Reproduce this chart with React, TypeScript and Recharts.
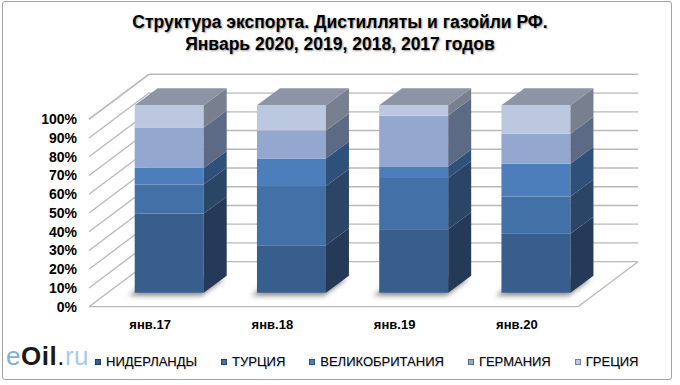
import { BarChart, Bar, XAxis, YAxis, CartesianGrid } from "recharts";

const categories = ["янв.17", "янв.18", "янв.19", "янв.20"];
const netherlands = [42.2, 25.3, 33.9, 31.4];
const turkey = [15.5, 31.6, 27.3, 19.9];
const britain = [8.9, 14.7, 6.2, 17.5];
const germany = [21.6, 15.0, 27.1, 16.0];
const greece = [11.8, 13.4, 5.5, 15.2];
const yTicks = [0, 10, 20, 30, 40, 50, 60, 70, 80, 90, 100];

const series = [
  { key: "nl", name: "НИДЕРЛАНДЫ", values: netherlands, front: "#375E8C", side: "#253A59" },
  { key: "tr", name: "ТУРЦИЯ", values: turkey, front: "#4171A7", side: "#2A4566" },
  { key: "uk", name: "ВЕЛИКОБРИТАНИЯ", values: britain, front: "#4C7EBB", side: "#2F5078" },
  { key: "de", name: "ГЕРМАНИЯ", values: germany, front: "#94A7CF", side: "#5D6A85" },
  { key: "gr", name: "ГРЕЦИЯ", values: greece, front: "#BCC7E0", side: "#78808F" },
];

const data = categories.map((c, i) => {
  const row: any = { name: c };
  series.forEach(s => { row[s.key] = s.values[i]; });
  return row;
});

// oblique projection: wall depth, bar placement and bar depth
const WALL_DX = 60, WALL_DY = -45;
const BAR_DX = 18.7, BAR_DY = -14;
const DEPTH_DX = 23, DEPTH_DY = -17;
const PLOT_BOTTOM = 306.7;
const FONT = "'Liberation Sans', Arial, sans-serif";

const gridLine = (p: any) => {
  const { x1, x2, y1 } = p;
  const bx = x1 + WALL_DX, by = y1 + WALL_DY;
  const isFloor = Math.abs(y1 - PLOT_BOTTOM) < 1;
  return (
    <g key={`grid-${y1}`} stroke="#b8b8b8" strokeWidth={1.3} fill="none">
      <line x1={x1} y1={y1} x2={bx} y2={by} />
      <line x1={bx} y1={by} x2={x2 + WALL_DX} y2={by} />
      {isFloor && <line x1={x1} y1={y1} x2={x2} y2={y1} />}
      {isFloor && <line x1={x2} y1={y1} x2={x2 + WALL_DX} y2={by} />}
    </g>
  );
};

const makeShape = (idx: number) => (props: any) => {
  const { x, y, width, height } = props;
  const s = series[idx];
  const fx = x + BAR_DX, fy = y + BAR_DY;
  const isTop = idx === series.length - 1;
  const isBase = idx === 0;
  const sidePts = [
    [fx + width, fy],
    [fx + width + DEPTH_DX, fy + DEPTH_DY],
    [fx + width + DEPTH_DX, fy + height + DEPTH_DY],
    [fx + width, fy + height],
  ].map(p => p.join(",")).join(" ");
  const topPts = [
    [fx, fy],
    [fx + width, fy],
    [fx + width + DEPTH_DX, fy + DEPTH_DY],
    [fx + DEPTH_DX, fy + DEPTH_DY],
  ].map(p => p.join(",")).join(" ");
  const by = fy + height;
  const shadowPts = [
    [fx - 6, by + 3],
    [fx + width - 2, by + 3],
    [fx + width + DEPTH_DX - 2, by + DEPTH_DY + 3],
    [fx + DEPTH_DX - 6, by + DEPTH_DY + 3],
  ].map(p => p.join(",")).join(" ");
  return (
    <g>
      {isBase && <polygon points={shadowPts} fill="rgba(0,0,0,0.45)" filter="url(#barShadow)" />}
      <rect x={fx} y={fy} width={width} height={height} fill={s.front} />
      <polygon points={sidePts} fill={s.side} />
      {isTop && <polygon points={topPts} fill="#8C94A5" />}
    </g>
  );
};

const YTick = (p: any) => (
  <text x={77} y={p.y} dy="0.35em" textAnchor="end" fontFamily={FONT} fontSize={14} fontWeight="bold" fill="#000">
    {p.payload.value}%
  </text>
);

const XTick = (p: any) => (
  <text x={p.x} y={329} textAnchor="middle" fontFamily={FONT} fontSize={13} fontWeight="bold" fill="#000">
    {p.payload.value}
  </text>
);

const App = () => (
  <div style={{ position: "absolute", left: 0, top: 0, width: 680, height: 385, background: "#fff", fontFamily: FONT }}>
    <div style={{ position: "absolute", left: 2, top: 1, width: 668, height: 377, border: "1.5px solid #a3a3a3", borderRadius: 3 }} />
    <div style={{ position: "absolute", left: 0, top: 11, width: 680, textAlign: "center", fontSize: 17.5, fontWeight: "bold", lineHeight: "22px", color: "#000", textShadow: "1px 1px 2px rgba(0,0,0,0.4)" }}>
      Структура экспорта. Дистилляты и газойли РФ.<br />Январь 2020, 2019, 2018, 2017 годов
    </div>
    <div style={{ position: "absolute", left: 0, top: 0 }}>
      <BarChart width={680} height={385} data={data} margin={{ top: 119.3, right: 102, bottom: 48.3, left: 29 }}>
        <defs>
          <filter id="barShadow" x="-30%" y="-100%" width="160%" height="300%">
            <feGaussianBlur stdDeviation="2.5" />
          </filter>
        </defs>
        <CartesianGrid vertical={false} horizontal={gridLine} />
        <XAxis dataKey="name" height={30} axisLine={false} tickLine={false} tick={XTick} />
        <YAxis width={60} domain={[0, 100]} ticks={yTicks} interval={0} axisLine={false} tickLine={false} tick={YTick} />
        {series.map((s, i) => (
          <Bar key={s.key} dataKey={s.key} name={s.name} stackId="a" barSize={69} fill={s.front}
            shape={makeShape(i)} isAnimationActive={false} />
        ))}
      </BarChart>
    </div>
    <div style={{ position: "absolute", left: 6, top: 341, fontSize: 26, lineHeight: "30px", letterSpacing: 0.5 }}>
      <span style={{ color: "#7FB0DC" }}>e</span>
      <span style={{ color: "#1a1a1a", fontWeight: "bold" }}>Oil</span>
      <span style={{ color: "#1a1a1a" }}>.</span>
      <span style={{ color: "#A9CBEA" }}>ru</span>
    </div>
    <div style={{ position: "absolute", left: 95, top: 354, display: "flex", alignItems: "center", fontSize: 13, lineHeight: "16px", color: "#000", textShadow: "0.5px 0.5px 1px rgba(60,90,140,0.4)" }}>
      {series.map(s => (
        <div key={s.key} style={{ display: "flex", alignItems: "center", marginRight: 24 }}>
          <span style={{ width: 6, height: 6, background: s.front, border: `1px solid ${s.side}`, marginRight: 5, boxSizing: "border-box" }} />
          <span>{s.name}</span>
        </div>
      ))}
    </div>
  </div>
);

export default App;
